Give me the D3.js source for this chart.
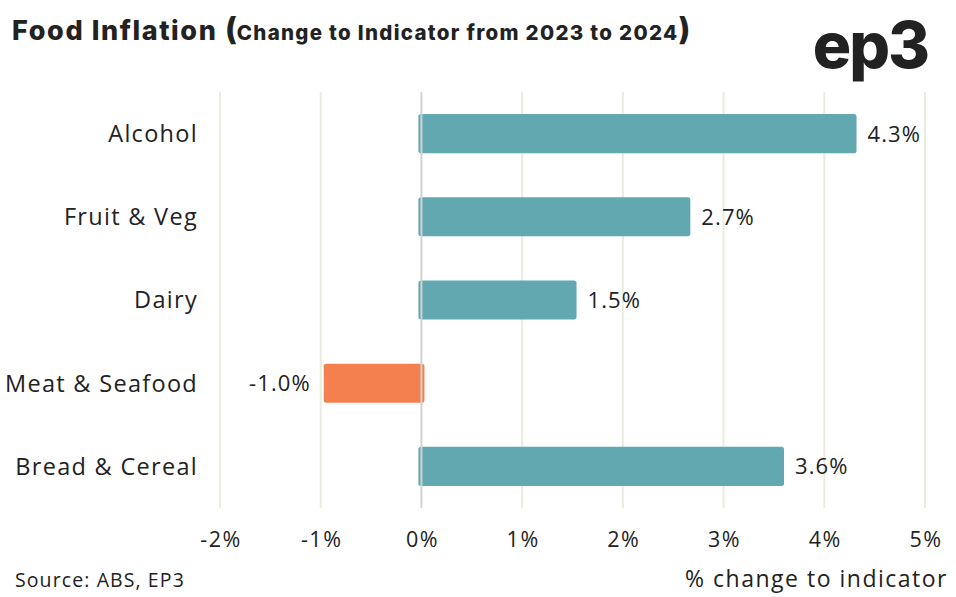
<!DOCTYPE html>
<html>
<head>
<meta charset="utf-8">
<script src="https://cdn.jsdelivr.net/npm/d3@7"></script>
<style>
  body { margin: 0; background: #fff; }
  svg text { font-family: "Open Sans", "Noto Sans", sans-serif; font-weight: 400; fill: #222; }
  svg text.bold { font-family: Inter, "Open Sans", sans-serif; font-weight: 800; }
</style>
</head>
<body>
<div id="chart"></div>
<script>
const categories = ['Alcohol', 'Fruit & Veg', 'Dairy', 'Meat & Seafood', 'Bread & Cereal'];
const values = [4.32, 2.67, 1.54, -0.97, 3.6];
const tickValues = [-2, -1, 0, 1, 2, 3, 4, 5];

const width = 956, height = 597;
const svg = d3.select('#chart').append('svg')
    .attr('width', width)
    .attr('height', height);

const x = d3.scaleLinear().domain([-2, 5]).range([220, 925]);
const y = d3.scaleBand().domain(categories).range([92, 508])
    .paddingInner(0.53).paddingOuter(0.265);

// gridlines
svg.append('g').selectAll('line')
    .data(tickValues.filter(d => d !== 0))
    .join('line')
    .attr('x1', d => x(d)).attr('x2', d => x(d))
    .attr('y1', 92).attr('y2', 508)
    .attr('stroke', '#ecebe0')
    .attr('stroke-width', 2);

// bars
const data = categories.map((c, i) => ({ name: c, value: values[i] }));
svg.append('g').selectAll('rect')
    .data(data)
    .join('rect')
    .attr('x', d => Math.min(x(0), x(d.value)) - (d.value > 0 ? 3 : 0))
    .attr('width', d => Math.abs(x(d.value) - x(0)) + 3)
    .attr('y', d => y(d.name))
    .attr('height', y.bandwidth())
    .attr('rx', 2.5)
    .attr('fill', d => d.value >= 0 ? '#62a8b0' : '#f5804f');

// zero line
svg.append('line')
    .attr('x1', x(0)).attr('x2', x(0))
    .attr('y1', 92).attr('y2', 508)
    .attr('stroke', '#d2d2d2')
    .attr('stroke-width', 2);

// value labels
svg.append('g').selectAll('text')
    .data(data)
    .join('text')
    .attr('x', d => d.value >= 0 ? x(d.value) + 11 : x(d.value) - 13)
    .attr('y', d => y(d.name) + y.bandwidth() / 2)
    .attr('dy', '0.36em')
    .attr('text-anchor', d => d.value >= 0 ? 'start' : 'end')
    .style('font-size', '22px')
    .style('letter-spacing', '1.1px')
    .text(d => d.value.toFixed(1) + '%');

// category labels
svg.append('g').selectAll('text')
    .data(categories)
    .join('text')
    .attr('x', 198)
    .attr('y', d => y(d) + y.bandwidth() / 2)
    .attr('dy', '0.36em')
    .attr('text-anchor', 'end')
    .style('font-size', '23.5px')
    .style('letter-spacing', '1.3px')
    .text(d => d);

// x tick labels
svg.append('g').selectAll('text')
    .data(tickValues)
    .join('text')
    .attr('x', d => x(d) + 1)
    .attr('y', 547)
    .attr('text-anchor', 'middle')
    .style('font-size', '21.5px')
    .style('letter-spacing', '1.5px')
    .text(d => d + '%');

// title
const title = svg.append('text').attr('class', 'bold').attr('x', 12).attr('y', 39.5);
title.append('tspan').style('font-size', '27px').style('letter-spacing', '1.6px').text('Food Inflation ');
title.append('tspan').style('font-size', '31px').text('(');
title.append('tspan').style('font-size', '20.5px').style('letter-spacing', '1.3px').text('Change to Indicator from 2023 to 2024');
title.append('tspan').style('font-size', '31px').text(')');

// logo
svg.append('text')
    .attr('class', 'bold')
    .attr('x', 928).attr('y', 68)
    .attr('text-anchor', 'end')
    .style('font-size', '64px')
    .style('letter-spacing', '-2px')
    .attr('fill', '#2a2a2a')
    .text('ep3');

// footer
svg.append('text')
    .attr('x', 15).attr('y', 587)
    .style('font-size', '19.5px')
    .style('letter-spacing', '1.1px')
    .text('Source: ABS, EP3');

svg.append('text')
    .attr('x', 948).attr('y', 587)
    .attr('text-anchor', 'end')
    .style('font-size', '23px')
    .style('letter-spacing', '1.5px')
    .text('% change to indicator');
</script>
</body>
</html>
